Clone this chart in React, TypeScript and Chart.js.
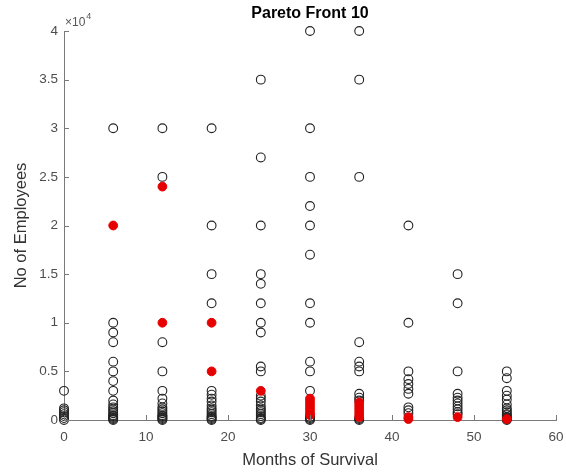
import React, { useEffect, useRef } from "react";
import { Chart, registerables } from "chart.js";

Chart.register(...registerables);

const chartTitle = "Pareto Front 10";
const xAxisLabel = "Months of Survival";
const yAxisLabel = "No of Employees";
const exponentBase = "×10";
const exponentPower = "4";

const xTickValues = [0, 10, 20, 30, 40, 50, 60];
const yTickValues = [0, 5000, 10000, 15000, 20000, 25000, 30000, 35000, 40000];
const yTickLabels = ["0", "0.5", "1", "1.5", "2", "2.5", "3", "3.5", "4"];

const months = [0, 6, 12, 18, 24, 30, 36, 42, 48, 54];

// dominated solutions (open circles), employees per month column
const other0 = [3000, 1200, 1000, 800, 600, 400, 200, 0];
const other6 = [30000, 10000, 9000, 8000, 6000, 5000, 4000, 3000, 2000, 1600, 1300, 1100, 900, 700, 500, 400, 300, 200, 100, 0];
const other12 = [30000, 25000, 8000, 5000, 3000, 2200, 1700, 1300, 1100, 900, 700, 500, 400, 300, 200, 100, 0];
const other18 = [30000, 20000, 15000, 12000, 3000, 2600, 2200, 1900, 1500, 1200, 1000, 800, 600, 400, 300, 200, 100, 0];
const other24 = [35000, 27000, 20000, 15000, 14000, 12000, 10000, 9000, 5500, 5000, 2500, 2200, 1900, 1500, 1200, 1000, 800, 600, 400, 200, 100, 0];
const other30 = [40000, 30000, 25000, 22000, 20000, 17000, 12000, 10000, 6000, 5000, 3000, 300, 200, 100, 0];
const other36 = [40000, 35000, 25000, 8000, 6000, 5500, 5000, 2700, 2300, 2000, 200, 100, 0];
const other42 = [20000, 10000, 5000, 4200, 3700, 3200, 2700, 1300, 1000, 700];
const other48 = [15000, 12000, 5000, 2700, 2300, 2000, 1700, 1400, 1100, 800, 600];
const other54 = [5000, 4300, 3000, 2500, 2100, 1600, 1200, 1000, 800, 600, 500, 300, 200, 100, 0];

// Pareto front 10 solutions (filled red)
const front0: number[] = [];
const front6 = [20000];
const front12 = [24000, 10000];
const front18 = [10000, 5000];
const front24 = [3000];
const front30 = [2200, 1900, 1600, 1300, 1000, 700, 500];
const front36 = [1800, 1500, 1200, 900, 600, 300];
const front42 = [300, 100];
const front48 = [300];
const front54 = [100];

const otherColumns = [other0, other6, other12, other18, other24, other30, other36, other42, other48, other54];
const frontColumns = [front0, front6, front12, front18, front24, front30, front36, front42, front48, front54];

function toPoints(columns: number[][]) {
  const pts: { x: number; y: number }[] = [];
  columns.forEach((col, i) => col.forEach((v) => pts.push({ x: months[i], y: v })));
  return pts;
}

const FONT = "'Liberation Sans', Arial, Helvetica, sans-serif";

const axisDecor = {
  id: "axisDecor",
  afterDatasetsDraw(chart: any) {
    const { ctx, chartArea, scales } = chart;
    const xs = scales.x;
    const ys = scales.y;
    ctx.save();
    ctx.strokeStyle = "#7a7a7a";
    ctx.lineWidth = 1;
    ctx.beginPath();
    xTickValues.forEach((v) => {
      const px = Math.round(xs.getPixelForValue(v)) + 0.5;
      ctx.moveTo(px, chartArea.bottom);
      ctx.lineTo(px, chartArea.bottom - 5);
    });
    yTickValues.forEach((v) => {
      const py = Math.round(ys.getPixelForValue(v)) + 0.5;
      ctx.moveTo(chartArea.left, py);
      ctx.lineTo(chartArea.left + 5, py);
    });
    ctx.stroke();
    ctx.fillStyle = "#555555";
    ctx.textBaseline = "alphabetic";
    ctx.textAlign = "left";
    ctx.font = `12px ${FONT}`;
    const bx = chartArea.left + 1;
    ctx.fillText(exponentBase, bx, chartArea.top - 5);
    const w = ctx.measureText(exponentBase).width;
    ctx.font = `9px ${FONT}`;
    ctx.fillText(exponentPower, bx + w + 1, chartArea.top - 12);
    ctx.restore();
  },
};

export default function App() {
  const canvasRef = useRef<HTMLCanvasElement | null>(null);

  useEffect(() => {
    if (!canvasRef.current) return;
    const chart = new Chart(canvasRef.current, {
      type: "scatter",
      data: {
        datasets: [
          {
            label: "Front",
            data: toPoints(frontColumns),
            order: 0,
            pointRadius: 4.4,
            pointBackgroundColor: "#e60000",
            pointBorderColor: "#e60000",
            pointBorderWidth: 1,
            clip: false as any,
          },
          {
            label: "Other",
            data: toPoints(otherColumns),
            order: 1,
            pointRadius: 4.4,
            pointBackgroundColor: "rgba(0,0,0,0)",
            pointBorderColor: "#222222",
            pointBorderWidth: 1.1,
            clip: false as any,
          },
        ],
      },
      options: {
        animation: false,
        responsive: false,
        layout: { padding: { left: 0, right: 10, top: 0, bottom: 0 } },
        plugins: {
          legend: { display: false },
          tooltip: { enabled: false },
          title: {
            display: true,
            text: chartTitle,
            fullSize: false,
            color: "#000000",
            font: { family: FONT, size: 16, weight: "bold", lineHeight: 1.2 },
            padding: { top: 4, bottom: 7.8 },
          },
        },
        scales: {
          x: {
            type: "linear",
            min: 0,
            max: 60,
            afterFit: (s: any) => {
              s.height = 54;
              s.paddingLeft = 0;
              s.paddingRight = 0;
            },
            afterBuildTicks: (s: any) => {
              s.ticks = xTickValues.map((v) => ({ value: v }));
            },
            ticks: {
              color: "#4d4d4d",
              font: { family: FONT, size: 13.5 },
              padding: 9,
              maxRotation: 0,
              autoSkip: false,
            },
            grid: { display: true, drawOnChartArea: false, drawTicks: false },
            border: { display: true, color: "#7a7a7a", width: 1 },
            title: {
              display: true,
              text: xAxisLabel,
              color: "#333333",
              font: { family: FONT, size: 16.5, lineHeight: 1.2 },
              padding: { top: 0, bottom: 4 },
            },
          },
          y: {
            type: "linear",
            min: 0,
            max: 40000,
            afterFit: (s: any) => {
              s.width = 64;
              s.paddingTop = 0;
              s.paddingBottom = 0;
            },
            afterBuildTicks: (s: any) => {
              s.ticks = yTickValues.map((v) => ({ value: v }));
            },
            ticks: {
              color: "#4d4d4d",
              font: { family: FONT, size: 13.5 },
              padding: 6,
              autoSkip: false,
              callback: (_v: any, i: number) => yTickLabels[i],
            },
            grid: { display: true, drawOnChartArea: false, drawTicks: false },
            border: { display: true, color: "#7a7a7a", width: 1 },
            title: {
              display: true,
              text: yAxisLabel,
              color: "#333333",
              font: { family: FONT, size: 16.5, lineHeight: 1.2 },
              padding: { top: 12, bottom: 0 },
            },
          },
        },
      } as any,
      plugins: [axisDecor],
    });
    return () => chart.destroy();
  }, []);

  return (
    <div style={{ position: "absolute", left: 0, top: 0, width: 566, height: 474, background: "#ffffff" }}>
      <canvas ref={canvasRef} width={566} height={474} style={{ display: "block" }} />
    </div>
  );
}
